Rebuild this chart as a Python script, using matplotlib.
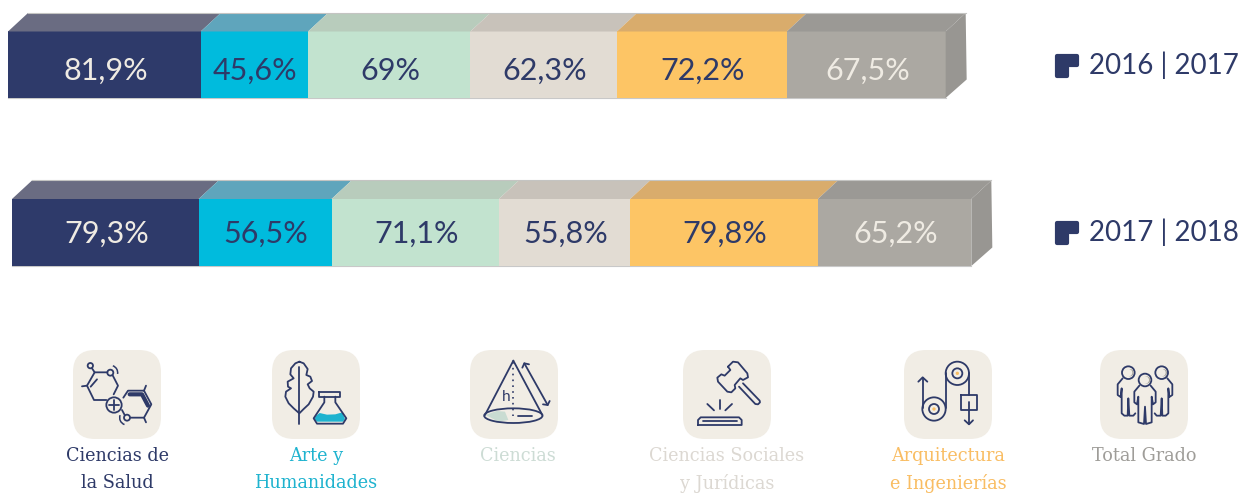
import numpy as np
import matplotlib
matplotlib.use("Agg")
import matplotlib.pyplot as plt
from matplotlib.patches import Polygon, Circle, Ellipse, Arc, FancyBboxPatch

# datos
cursos = ['2016 | 2017', '2017 | 2018']
valores_2016 = [81.9, 45.6, 69, 62.3, 72.2, 67.5]
valores_2017 = [79.3, 56.5, 71.1, 55.8, 79.8, 65.2]
etiquetas_2016 = ['81,9%', '45,6%', '69%', '62,3%', '72,2%', '67,5%']
etiquetas_2017 = ['79,3%', '56,5%', '71,1%', '55,8%', '79,8%', '65,2%']
categorias = ['Ciencias de\nla Salud', 'Arte y\nHumanidades', 'Ciencias',
              'Ciencias Sociales\ny Jurídicas', 'Arquitectura\ne Ingenierías', 'Total Grado']

# colores
NAVY = '#2e3a68'
IVORY = '#efebe3'
CAJA = '#f1ede5'
frente = ['#2e3a6a', '#00bbdd', '#c2e3cf', '#e2dcd3', '#fdc565', '#aba8a2']
arriba = ['#6a6c82', '#5fa5bc', '#b8ccbc', '#c8c2ba', '#d9ac6c', '#9b9995']
texto_barra = [IVORY, NAVY, NAVY, NAVY, NAVY, IVORY]
color_cat = ['#2e3a68', '#1fb3cf', '#cddcd5', '#dcd8d2', '#f9bd63', '#9f9d99']

ESCALA = 2.353   # pixeles por punto porcentual
FONDO = 20
ALTO_TOP = 18.5
FUENTE = 'Lato'
SLAB = 'DejaVu Serif'

fig = plt.figure(figsize=(12.47, 4.94), dpi=100)
ax = fig.add_axes([0, 0, 1, 1])
ax.set_xlim(0, 1247)
ax.set_ylim(494, 0)
ax.axis('off')


def dibujar_barra(valores, etiquetas, x0, y_top, y_bot, y_txt):
    anchos = np.array(valores) * ESCALA
    lefts = x0 + np.concatenate([[0], np.cumsum(anchos)[:-1]])
    y_c = (y_top + y_bot) / 2
    ax.barh(y_c, anchos, left=lefts, height=y_bot - y_top, color=frente, linewidth=0, zorder=2)
    for l, w, col_top, et, col_txt in zip(lefts, anchos, arriba, etiquetas, texto_barra):
        ax.add_patch(Polygon([(l, y_top), (l + FONDO, y_top - ALTO_TOP),
                              (l + w + FONDO, y_top - ALTO_TOP), (l + w, y_top)],
                             closed=True, fc=col_top, ec='none', zorder=2))
        ax.text(l + w / 2 + 1, y_txt, et, color=col_txt, fontsize=22, family=FUENTE,
                ha='center', va='center', zorder=3)
    fin = lefts[-1] + anchos[-1]
    # lateral derecho
    ax.add_patch(Polygon([(fin, y_top), (fin + FONDO, y_top - ALTO_TOP),
                          (fin + FONDO + 1, y_bot - ALTO_TOP), (fin, y_bot)],
                         closed=True, fc='#989692', ec='none', zorder=2))
    ax.plot([x0 + FONDO, fin + FONDO], [y_top - ALTO_TOP] * 2, color='#c4c4c2', lw=0.8, zorder=2)
    ax.plot([x0, fin], [y_bot, y_bot], color='#c8c8c8', lw=0.8, zorder=1)


dibujar_barra(valores_2016, etiquetas_2016, 8, 31.5, 98, 70.5)
dibujar_barra(valores_2017, etiquetas_2017, 12, 199, 266, 233.5)


# marcador de la leyenda
def marcador(x, y):
    pts = [(x, y), (x + 20, y), (x + 20, y + 9), (x + 10, y + 9), (x + 10, y + 20), (x, y + 20), (x, y)]
    ax.add_patch(Polygon(pts, closed=True, fc=NAVY, ec=NAVY, lw=3, joinstyle='round', zorder=3))


for curso, y_m, y_t in zip(cursos, [56.5, 223], [65, 232]):
    marcador(1056.5, y_m)
    ax.text(1089, y_t, curso, color=NAVY, fontsize=20, family=FUENTE, va='center', ha='left')


# iconos: coordenadas en unidades de recorte (3 = 1 pixel)
class Icono:
    def __init__(self, ox, oy=345):
        self.ox = ox
        self.oy = oy

    def p(self, pts):
        return [(self.ox + a / 3, self.oy + b / 3) for a, b in pts]

    def linea(self, pts, lw=1.3, color=NAVY, ls='-'):
        xy = np.array(self.p(pts))
        ax.plot(xy[:, 0], xy[:, 1], color=color, lw=lw, ls=ls, solid_capstyle='round',
                solid_joinstyle='round', zorder=5)

    def circ(self, a, b, r, fc='none', ec=NAVY, lw=1.3):
        ax.add_patch(Circle((self.ox + a / 3, self.oy + b / 3), r / 3, fc=fc, ec=ec, lw=lw, zorder=5))

    def arco(self, a, b, r, t1, t2):
        ax.add_patch(Arc((self.ox + a / 3, self.oy + b / 3), 2 * r / 3, 2 * r / 3, theta1=t1, theta2=t2,
                         color=NAVY, lw=1.1, zorder=5))

    def relleno(self, pts, color):
        ax.add_patch(Polygon(self.p(pts), closed=True, fc=color, ec='none', zorder=4))

    def caja(self):
        ax.add_patch(FancyBboxPatch((self.ox + 5 + 20, self.oy + 5 + 20), 88 - 40, 89 - 40,
                                    boxstyle='round,pad=20,rounding_size=22', fc=CAJA, ec='none', zorder=3))


# Ciencias de la Salud
i = Icono(68)
i.caja()
i.circ(67, 62, 8)
i.circ(127, 83, 9)
i.linea([(72, 70), (80, 82), (118, 82)])
i.linea([(134, 91), (150, 122), (137, 148)])
i.linea([(80, 82), (57, 122), (78, 165), (115, 165)])
i.linea([(87, 103), (68, 125)])
i.linea([(42, 124), (57, 122)])
i.arco(127, 83, 22, -70, 10)
i.circ(138, 180, 23)
i.linea([(124, 180), (152, 180)])
i.linea([(138, 166), (138, 194)])
i.linea([(166, 158), (180, 137), (228, 137), (250, 178), (228, 218), (188, 218)])
i.linea([(162, 195), (170, 210)])
i.linea([(228, 137), (234, 122)])
i.linea([(228, 218), (234, 232)])
i.linea([(185, 148), (222, 148), (240, 182)], lw=3)
i.circ(177, 218, 9)
i.arco(177, 218, 22, 110, 200)

# Arte y Humanidades
i = Icono(267)
i.caja()
i.linea([(97, 50), (85, 55), (72, 70), (70, 88), (80, 100), (62, 110), (63, 125), (72, 130), (57, 140),
         (55, 155), (65, 175), (80, 190), (97, 205), (110, 192), (125, 178), (138, 155), (140, 140),
         (128, 130), (122, 118), (135, 108), (130, 95), (118, 90), (122, 72), (110, 55), (97, 50)])
i.linea([(97, 65), (97, 238)])
i.relleno([(147, 212), (158, 204), (180, 209), (205, 208), (226, 202), (234, 222), (228, 230), (150, 230), (142, 222)],
          '#1fb3cf')
i.linea([(157, 140), (220, 140), (220, 155), (157, 155), (157, 140)])
i.linea([(172, 155), (172, 172), (140, 220), (150, 236), (228, 236), (238, 220), (205, 172), (205, 155)])

# Ciencias
i = Icono(465)
i.caja()
i.relleno([(62, 210), (95, 198), (120, 200), (130, 225), (100, 230)], '#c9dcd2')
ax.add_patch(Ellipse((465 + 145 / 3, 345 + 212 / 3), 175 / 3, 44 / 3, fc='none', ec=NAVY, lw=1.3, zorder=5))
i.linea([(145, 47), (60, 210)])
i.linea([(145, 47), (232, 210)])
i.linea([(145, 52), (145, 212)], lw=1.2, ls=(0, (1, 2.5)))
i.linea([(158, 213), (200, 213)])
i.linea([(178, 55), (248, 180)])
i.linea([(172, 68), (178, 55), (192, 58)])
i.linea([(234, 178), (248, 180), (254, 168)])
ax.text(465 + 123 / 3, 345 + 157 / 3, 'h', color=NAVY, fontsize=11, family=FUENTE, ha='center', va='center', zorder=5)

# Ciencias Sociales y Juridicas
i = Icono(678)
i.caja()
i.linea([(150, 65), (165, 50), (180, 52), (208, 85), (210, 97), (195, 105), (187, 100), (170, 120), (172, 130),
         (160, 142), (148, 140), (120, 110), (118, 98), (130, 88), (140, 92), (157, 75), (150, 65)])
i.linea([(183, 125), (232, 177), (240, 178), (246, 172), (245, 167), (195, 115)])
i.linea([(125, 165), (125, 193)])
i.linea([(88, 177), (108, 196)])
i.linea([(162, 177), (142, 196)])
i.linea([(60, 240), (60, 225), (68, 217), (183, 217), (191, 225), (191, 240), (60, 240)])
i.linea([(75, 228), (178, 228)])

# Arquitectura e Ingenierias
i = Icono(899)
i.caja()
for a, b in [(175, 85), (105, 192)]:
    i.circ(a, b, 35)
    i.circ(a, b, 15)
    i.circ(a, b, 5, fc='#f9bd63', ec='none')
i.linea([(71, 98), (71, 190)])
i.linea([(58, 110), (71, 97), (85, 110)])
i.linea([(140, 85), (140, 190)])
i.linea([(210, 85), (210, 150)])
i.linea([(186, 150), (233, 150), (233, 195), (186, 195), (186, 150)])
i.linea([(210, 170), (210, 238)])
i.linea([(197, 226), (210, 238), (222, 226)])

# Total Grado
i = Icono(1095)
i.caja()
for a, b in [(100, 83), (200, 83), (150, 105)]:
    i.circ(a, b, 19)
    i.circ(a + 5, b, 11, fc='#a5a39e', ec='none', lw=0)
    i.circ(a + 1, b, 11, fc=CAJA, ec='none', lw=0)
i.linea([(83, 100), (68, 118), (68, 150), (77, 156), (80, 130), (80, 205), (88, 212), (98, 212), (100, 160),
         (103, 212), (115, 212), (121, 205)])
i.linea([(217, 100), (232, 118), (232, 150), (223, 156), (220, 130), (220, 205), (212, 212), (202, 212), (200, 160),
         (197, 212), (185, 212), (179, 205)])
i.linea([(133, 122), (118, 140), (118, 172), (126, 178), (130, 155), (130, 232), (147, 237), (150, 185), (153, 237),
         (170, 232), (170, 155), (174, 178), (182, 172), (182, 140), (167, 122)])

# nombres de las categorias
x_cat = [117, 316, 518, 727, 948, 1144]
for x, cat, col in zip(x_cat, categorias, color_cat):
    for k, linea in enumerate(cat.split('\n')):
        ax.text(x, 456 + 27 * k, linea, color=col, fontsize=12.7, family=SLAB, ha='center', va='center', zorder=5)

plt.savefig('out.png', dpi=100)
